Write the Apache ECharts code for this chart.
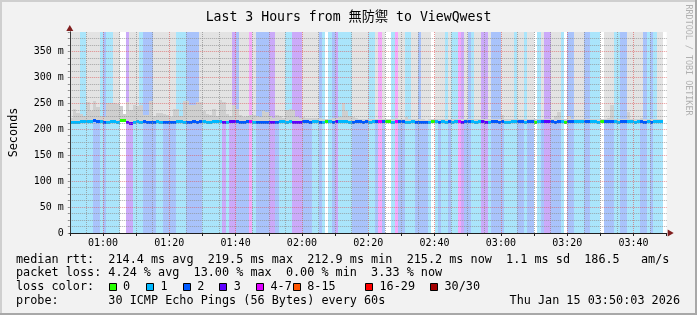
<!DOCTYPE html>
<html><head><meta charset="utf-8">
<script src="https://cdn.jsdelivr.net/npm/echarts@6/dist/echarts.min.js"></script>
<style>html,body{margin:0;padding:0;background:#f2f2f2}#c{width:697px;height:315px}</style>
</head><body><div id="c"></div>
<script>
// time axis: minutes since 00:00, one column per minute (60 s step)
const startMinute = 50;   // 00:50
const endMinute = 230;    // 03:50

// lost pings (of 30) per minute
const lossPings = [
 1,1,1,1,1,1,1,2,2,1, 2,1,1,1,1,0,0,3,3,1, 1,1,2,2,2,2,1,1,2,2,
 2,2,1,1,1,2,2,2,2,2, 1,1,1,1,1,1,3,1,3,3, 2,2,2,2,4,1,2,2,2,2,
 3,3,2,1,1,1,1,3,3,3, 2,2,2,1,1,2,1,0,1,2, 3,1,1,1,1,2,2,2,2,2,
 1,1,2,4,2,0,0,1,4,2, 2,1,1,1,2,2,2,2,1,0, 1,2,1,1,2,1,1,4,3,2,
 2,1,1,1,3,3,1,2,2,2, 2,1,1,1,1,2,2,1,2,2, 0,1,2,3,3,2,2,2,1,0,
 2,2,1,1,1,2,2,1,1,1, 0,2,2,2,1,1,2,2,1,1, 1,1,2,2,1,2,1,1,1
];
// median rtt per minute (ms)
const medianMs = [
 213.8,213.5,214.2,216.0,215.8,215.5,215.0,217.5,216.5,215.6,
 214.0,214.4,215.5,215.8,214.6,218.0,218.2,213.5,212.9,214.6,
 215.0,214.8,215.0,214.2,214.4,214.0,215.6,214.6,214.2,213.8,
 214.0,214.5,215.8,215.0,214.4,213.8,214.5,215.6,214.8,215.6,
 215.0,214.6,214.0,215.4,216.0,215.0,213.8,214.6,215.8,216.0,
 215.5,214.0,214.6,215.8,216.5,213.6,214.0,214.2,213.8,214.4,
 214.0,213.5,214.6,215.2,215.0,214.8,215.2,214.6,213.6,214.2,
 215.0,215.2,214.6,215.6,215.0,214.4,214.8,215.0,215.2,214.6,
 215.6,215.8,215.4,215.0,214.6,214.6,215.0,215.4,214.2,215.0,
 214.8,215.4,215.0,215.8,215.0,215.2,215.6,214.8,215.0,215.0,
 215.4,214.8,214.4,215.0,214.2,214.0,214.4,213.8,214.4,215.0,
 215.2,214.6,215.0,214.8,215.6,214.6,215.0,215.2,214.8,215.4,
 215.0,215.6,214.8,215.2,215.8,214.4,214.8,215.6,215.0,214.6,
 215.2,214.8,214.6,215.0,215.4,215.6,215.0,214.8,215.4,215.8,
 214.4,215.0,215.4,215.8,215.8,215.2,214.6,215.0,215.0,214.6,
 215.6,215.0,215.2,215.4,215.0,215.6,215.8,215.0,215.2,214.8,
 215.8,215.6,215.2,215.2,215.0,214.8,215.4,215.2,215.0,215.0,
 214.8,215.0,215.6,214.6,215.4,214.4,215.6,215.2,215.2
];
// upper edge of the dense smoke (ms)
const smokeMidMs = [
 222,240,232,230,226,253,236,254,243,225, 224,250,250,250,248,245,230,253,238,247,
 245,247,227,228,254,226,232,232,230,227, 224,240,240,226,254,254,247,247,253,253,
 236,230,228,240,226,256,253,230,226,247, 240,228,224,226,227,227,226,224,235,233,
 225,222,227,226,222,237,240,238,224,222, 224,222,222,221,222,221,220,220,220,221,
 222,224,250,236,226,223,221,220,219,220, 219,220,219,220,219,219,220,219,222,219,
 220,224,219,220,219,219,220,218,219,219, 220,219,220,219,220,219,220,219,220,220,
 219,220,219,220,220,219,219,220,219,219, 228,220,219,220,220,220,219,219,220,220,
 219,220,220,220,220,219,225,233,220,219, 226,220,220,220,219,220,220,219,220,219,
 220,220,221,246,220,219,220,220,233,220, 219,220,221,219,220,219,220,220,219
];
// upper edge of the sparse smoke / max rtt (ms), 400 = beyond the chart
const smokeHiMs = [
 400,400,400,230,226,400,400,400,400,225, 224,250,250,400,400,245,230,253,400,400,
 400,247,227,228,254,400,400,400,400,400, 400,400,240,226,254,254,247,247,253,400,
 400,400,400,400,400,400,400,400,400,247, 240,400,400,400,227,400,226,224,235,233,
 225,222,400,400,400,237,240,238,224,222, 400,400,400,400,400,221,220,220,220,221,
 222,224,250,236,226,400,400,400,400,400, 219,220,400,220,400,219,220,219,222,400,
 400,224,219,400,400,219,400,400,400,219, 400,400,400,219,400,219,220,219,220,400,
 219,220,400,400,220,219,400,220,219,219, 400,400,400,400,220,400,400,219,400,400,
 219,220,400,220,220,400,400,400,220,219, 226,220,400,400,400,220,220,219,220,219,
 220,400,400,400,220,219,220,220,400,400, 400,400,400,219,220,219,220,400,400
];

const xTickLabels = ['01:00','01:20','01:40','02:00','02:20','02:40','03:00','03:20','03:40'];
const yTickLabels = ['0','50 m','100 m','150 m','200 m','250 m','300 m','350 m'];
const lossLegendLabels = ['0','1','2','3','4-7','8-15','16-29','30/30'];
const lossColors = ['#26ff00','#00b8ff','#0059ff','#5e00ff','#dd00ff','#ff5500','#ff0000','#a10000'];
const lossBgColors = ['#ffffff','#aae5fb','#a9c3fb','#cbaaf9','#f5a9f9','#ffccaa','#ffaaaa','#e0aaaa'];
const statLines = [
 'median rtt:  214.4 ms avg  219.5 ms max  212.9 ms min  215.2 ms now  1.1 ms sd  186.5   am/s',
 'packet loss: 4.24 % avg  13.00 % max  0.00 % min  3.33 % now',
 'loss color:',
 'probe:       30 ICMP Echo Pings (56 Bytes) every 60s'
];
const stampText = 'Thu Jan 15 03:50:03 2026';
const titleText = 'Last 3 Hours from 無防禦 to ViewQwest';

const MONO = "'DejaVu Sans Mono', 'Noto Sans CJK SC', monospace";
const Y_MAX = 387.5;

function lossBucket(n) {
  if (n <= 3) return n;
  if (n <= 7) return 4;
  if (n <= 15) return 5;
  if (n <= 29) return 6;
  return 7;
}

const data = lossPings.map((l, i) => [startMinute + i, medianMs[i], l, smokeHiMs[i], smokeMidMs[i]]);

function renderItem(params, api) {
  const x0 = api.value(0), med = api.value(1), b = lossBucket(api.value(2));
  const hi = Math.min(api.value(3), Y_MAX), mid = Math.min(api.value(4), Y_MAX);
  const left = Math.round(api.coord([x0, 0])[0]);
  const right = Math.round(api.coord([x0 + 1, 0])[0]);
  const w = right - left;
  const yBot = Math.round(api.coord([x0, 0])[1]);
  const yTop = Math.round(api.coord([x0, Y_MAX])[1]);
  const yMed = Math.round(api.coord([x0, med])[1]);
  const yHi = Math.round(api.coord([x0, hi])[1]);
  const yMid = Math.round(api.coord([x0, mid])[1]);
  const ch = [
    {type: 'rect', shape: {x: left, y: yTop, width: w, height: yBot - yTop}, style: {fill: lossBgColors[b]}}
  ];
  if (yHi < yMed) ch.push({type: 'rect', shape: {x: left, y: yHi, width: w, height: yMed - yHi}, style: {fill: '#e3e3e3'}});
  if (yMid < yMed) ch.push({type: 'rect', shape: {x: left, y: yMid, width: w, height: yMed - yMid}, style: {fill: '#cfcfcf'}});
  ch.push({type: 'rect', shape: {x: left, y: yMed - 1, width: w, height: 3}, style: {fill: lossColors[b]}});
  return {type: 'group', children: ch};
}

const graphics = [
  {type: 'rect', shape: {x: 0, y: 0, width: 697, height: 2}, style: {fill: '#cfcfcf'}},
  {type: 'rect', shape: {x: 0, y: 0, width: 2, height: 315}, style: {fill: '#cfcfcf'}},
  {type: 'rect', shape: {x: 0, y: 313, width: 697, height: 2}, style: {fill: '#a8a8a8'}},
  {type: 'rect', shape: {x: 695, y: 0, width: 2, height: 315}, style: {fill: '#a8a8a8'}},
  {type: 'text', x: 688, y: 60, rotation: -Math.PI / 2,
   style: {text: 'RRDTOOL / TOBI OETIKER', fontSize: 8.4, fontFamily: MONO, fill: '#b0b0b0', align: 'center', verticalAlign: 'middle'}}
];
const lineY = [259.5, 273.3, 287, 300.7];
statLines.forEach((t, i) => graphics.push({type: 'text', x: 16, y: lineY[i],
  style: {text: t, fontSize: 11.8, fontFamily: MONO, fill: '#000', align: 'left', verticalAlign: 'middle'}}));
graphics.push({type: 'text', x: 680, y: lineY[3],
  style: {text: stampText, fontSize: 11.8, fontFamily: MONO, fill: '#000', align: 'right', verticalAlign: 'middle'}});
const boxX = [108.5, 146, 182.7, 219.3, 256, 292.7, 365, 430];
lossLegendLabels.forEach((t, i) => {
  graphics.push({type: 'rect', shape: {x: Math.round(boxX[i]) + 0.5, y: 283.5, width: 7, height: 7},
    style: {fill: lossColors[i], stroke: '#000', lineWidth: 1}});
  graphics.push({type: 'text', x: boxX[i] + 14.5, y: lineY[2],
    style: {text: t, fontSize: 11.8, fontFamily: MONO, fill: '#000', align: 'left', verticalAlign: 'middle'}});
});

const minorGrid = 'rgba(143,143,143,0.75)';
const majorGrid = 'rgba(222,79,79,0.6)';

const option = {
  animation: false,
  backgroundColor: '#f2f2f2',
  title: {text: titleText, left: 'center', top: 6,
    textStyle: {fontFamily: MONO, fontSize: 13.2, fontWeight: 'normal', color: '#000'}},
  grid: {left: 66.7, right: 30.3, top: 32, bottom: 82, show: true, backgroundColor: '#ffffff', borderWidth: 0, containLabel: false},
  xAxis: [
    {type: 'value', min: startMinute, max: endMinute, interval: 10, position: 'bottom', z: 6,
     axisLine: {show: true, lineStyle: {color: '#1f1f1f', width: 1}},
     axisTick: {show: true, length: 3, lineStyle: {color: '#1f1f1f'}},
     axisLabel: {show: true, margin: 5, fontFamily: MONO, fontSize: 10, color: '#000',
       showMinLabel: true, showMaxLabel: true,
       formatter: v => { const k = (v - 60) / 20; return (Number.isInteger(k) && k >= 0 && k < xTickLabels.length) ? xTickLabels[k] : ''; }},
     splitLine: {show: false}},
    {type: 'value', min: startMinute, max: endMinute, interval: 5, position: 'bottom', z: 4,
     axisLine: {show: true, symbol: ['none', 'triangle'], symbolSize: [7, 6], symbolOffset: [0, 4], lineStyle: {color: '#801f1f', width: 1}},
     axisTick: {show: false}, axisLabel: {show: false},
     splitLine: {show: true, showMaxLine: false, lineStyle: {color: [minorGrid, minorGrid, majorGrid, minorGrid], type: [1, 1], width: 1}}}
  ],
  yAxis: [
    {type: 'value', min: 0, max: Y_MAX, interval: 50, position: 'left', z: 6,
     name: 'Seconds', nameLocation: 'middle', nameGap: 50, nameRotate: 90,
     nameTextStyle: {fontFamily: MONO, fontSize: 11.8, color: '#000'},
     axisLine: {show: true, lineStyle: {color: '#3a3a3a', width: 1}},
     axisTick: {show: false},
     axisLabel: {show: true, margin: 6, fontFamily: MONO, fontSize: 10, color: '#000', showMaxLabel: false,
       formatter: v => { const k = v / 50; return (Number.isInteger(k) && k < yTickLabels.length) ? yTickLabels[k] : ''; }},
     splitLine: {show: false}},
    {type: 'value', min: 0, max: Y_MAX, interval: 12.5, position: 'left', z: 4,
     axisLine: {show: true, symbol: ['none', 'triangle'], symbolSize: [7, 6], symbolOffset: [0, 4], lineStyle: {color: '#801f1f', width: 1}},
     axisTick: {show: true, length: 2, lineStyle: {color: '#8f8f8f'}}, axisLabel: {show: false},
     splitLine: {show: true, showMaxLine: false, lineStyle: {color: [majorGrid, minorGrid, minorGrid, minorGrid], type: [1, 1], width: 1}}}
  ],
  series: [{
    type: 'custom', name: 'median rtt', xAxisIndex: 0, yAxisIndex: 0, z: 2,
    renderItem: renderItem, data: data, clip: true,
    encode: {x: 0, y: 1}
  }],
  graphic: graphics
};
const chart = echarts.init(document.getElementById('c'));
chart.setOption(option);
</script></body></html>
